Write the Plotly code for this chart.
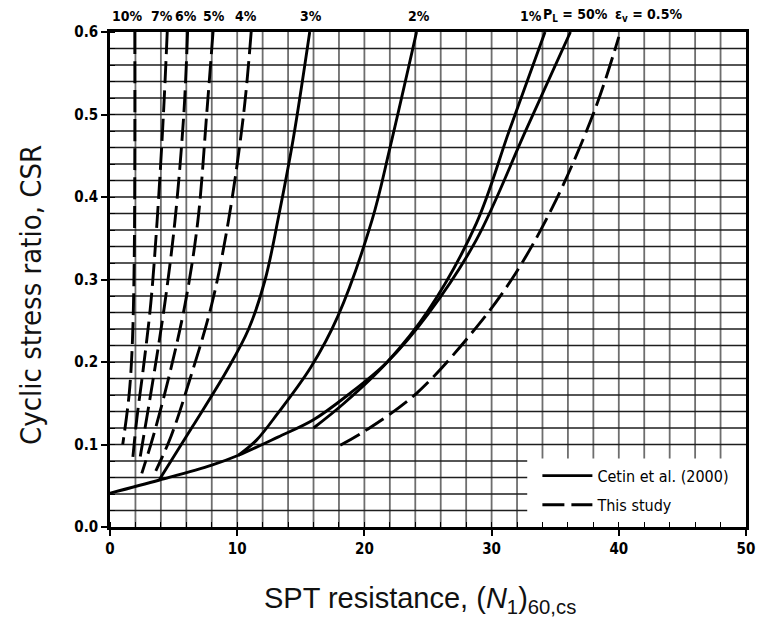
import plotly.graph_objects as go

# ---------------- data ----------------
# "This study" curves (dashed)
n_10 = [1.95, 1.95, 1.9, 1.75, 1.5, 1.0]
csr_10 = [0.60, 0.45, 0.32, 0.22, 0.16, 0.10]

n_7 = [4.5, 4.2, 3.7, 3.2, 2.6, 2.1, 1.8]
csr_7 = [0.60, 0.50, 0.37, 0.27, 0.19, 0.13, 0.085]

n_6 = [6.1, 5.8, 5.1, 4.3, 3.4, 2.7, 2.3]
csr_6 = [0.60, 0.50, 0.37, 0.27, 0.18, 0.115, 0.078]

n_5 = [8.1, 7.6, 6.9, 5.9, 4.6, 3.4, 2.5]
csr_5 = [0.60, 0.50, 0.37, 0.27, 0.18, 0.11, 0.065]

n_4 = [11.1, 10.5, 9.3, 8.0, 6.3, 4.8, 3.6]
csr_4 = [0.60, 0.50, 0.37, 0.27, 0.18, 0.11, 0.068]

n_05 = [18.1, 20.2, 24.1, 28.8, 31.7, 34.8, 38.1, 40.0]
csr_05 = [0.099, 0.118, 0.162, 0.242, 0.303, 0.388, 0.505, 0.594]

# Cetin et al. (2000) curves (solid)
n_3 = [3.9, 6.5, 9.2, 10.9, 12.2, 13.3, 14.4, 15.7]
csr_3 = [0.058, 0.122, 0.190, 0.240, 0.300, 0.380, 0.470, 0.60]

n_2 = [24.1, 22.0, 20.6, 17.9, 15.8, 13.2, 11.5, 10.1]
csr_2 = [0.60, 0.459, 0.372, 0.255, 0.194, 0.138, 0.105, 0.087]

n_1 = [16.0, 18.4, 21.8, 25.0, 28.8, 31.4, 34.2]
csr_1 = [0.12, 0.150, 0.200, 0.262, 0.368, 0.481, 0.60]

n_pl = [0.0, 3.9, 8.0, 10.1, 13.2, 16.0, 18.7, 21.8, 25.0, 28.8, 32.7, 36.2]
csr_pl = [0.041, 0.057, 0.075, 0.087, 0.109, 0.130, 0.160, 0.200, 0.258, 0.348, 0.481, 0.60]

# top labels and their x positions
top_labels = ["10%", "7%", "6%", "5%", "4%", "3%", "2%", "1%",
              "P<sub>L</sub> = 50%", "ε<sub>v</sub> = 0.5%"]
top_label_x = [1.4, 4.1, 6.0, 8.2, 10.7, 15.8, 24.3, 33.1, 36.6, 42.3]

x_ticks = [0, 10, 20, 30, 40, 50]
y_ticks = [0.0, 0.1, 0.2, 0.3, 0.4, 0.5, 0.6]

# ---------------- figure ----------------
NARROW = "Liberation Sans Narrow, Arial Narrow, DejaVu Sans Condensed, sans-serif"
SANS = "Liberation Sans, Arial, sans-serif"

fig = go.Figure()

dash_pat = "22px,7px"
lw = 2.9

dashed = [(n_10, csr_10), (n_7, csr_7), (n_6, csr_6), (n_5, csr_5), (n_4, csr_4)]
solid = [(n_3, csr_3), (n_2, csr_2), (n_1, csr_1)]

fig.add_trace(go.Scatter(x=n_pl, y=csr_pl, mode="lines", name="Cetin et al. (2000)",
                         line=dict(color="black", width=lw, shape="spline"),
                         showlegend=True, legend="legend"))
for xs, ys in solid:
    fig.add_trace(go.Scatter(x=xs, y=ys, mode="lines", showlegend=False,
                             line=dict(color="black", width=lw, shape="spline")))
fig.add_trace(go.Scatter(x=n_05, y=csr_05, mode="lines", name="This study",
                         line=dict(color="black", width=lw, dash=dash_pat, shape="spline"),
                         showlegend=True, legend="legend2"))
for xs, ys in dashed:
    fig.add_trace(go.Scatter(x=xs, y=ys, mode="lines", showlegend=False,
                             line=dict(color="black", width=lw, dash=dash_pat, shape="spline")))

# grid drawn as shapes, leaving the legend box clear
shapes = []
box_x, box_y = 32.8, 0.083
for i in range(0, 26):
    xv = 2 * i
    if xv in (0, 50):
        continue
    y0 = box_y if xv > box_x else 0
    shapes.append(dict(type="line", xref="x", yref="y", x0=xv, x1=xv, y0=y0, y1=0.6,
                       line=dict(color="#6e6e6e", width=1.8), layer="below"))
for j in range(1, 30):
    yv = j * 0.02
    x1 = box_x if yv < box_y else 50
    shapes.append(dict(type="line", xref="x", yref="y", x0=0, x1=x1, y0=yv, y1=yv,
                       line=dict(color="#1e1e1e", width=1.7), layer="below"))

annotations = []
for txt, xv in zip(top_labels, top_label_x):
    annotations.append(dict(text=txt, x=xv, y=1, xref="x", yref="paper",
                            yanchor="bottom", yshift=6, showarrow=False,
                            font=dict(family=NARROW, size=14, color="black", weight="bold")))

# axis titles as annotations for exact placement
annotations.append(dict(text="Cyclic stress ratio, CSR", textangle=-90,
                        x=-0.124, y=0.469, xref="paper", yref="paper",
                        xanchor="center", yanchor="middle", showarrow=False,
                        font=dict(family=NARROW, size=29, color="#111")))
annotations.append(dict(text="SPT resistance, (<i>N</i><sub>1</sub>)<sub>60,cs</sub>",
                        x=0.487, y=-0.147, xref="paper", yref="paper",
                        xanchor="center", yanchor="middle", showarrow=False,
                        font=dict(family=SANS, size=29, color="#111")))

fig.update_layout(
    width=767, height=635,
    margin=dict(l=110, r=12, t=32, b=108),
    paper_bgcolor="white", plot_bgcolor="white",
    shapes=shapes, annotations=annotations,
    legend=dict(x=0.672, y=0.138, xanchor="left", yanchor="top", itemwidth=50,
                bgcolor="rgba(0,0,0,0)", font=dict(family=NARROW, size=16, color="black")),
    legend2=dict(x=0.672, y=0.079, xanchor="left", yanchor="top", itemwidth=50,
                 bgcolor="rgba(0,0,0,0)", font=dict(family=NARROW, size=16, color="black")),
)

fig.update_xaxes(range=[0, 50], tickvals=x_ticks, ticktext=[str(v) for v in x_ticks],
                 showgrid=False, zeroline=False, showline=True, linecolor="black", linewidth=2.5,
                 mirror=True, ticks="outside", ticklen=6, tickwidth=2, tickcolor="black",
                 minor=dict(dtick=2, ticks="inside", ticklen=5, tickwidth=1.2, tickcolor="black",
                            showgrid=False),
                 tickfont=dict(family=NARROW, size=15, color="black", weight="bold"))
fig.update_yaxes(range=[0, 0.6], tickvals=y_ticks, ticktext=["%.1f" % v for v in y_ticks],
                 showgrid=False, zeroline=False, showline=True, linecolor="black", linewidth=2.5,
                 mirror=True, ticks="outside", ticklen=6, tickwidth=2, tickcolor="black",
                 minor=dict(dtick=0.02, ticks="inside", ticklen=5, tickwidth=1.2, tickcolor="black",
                            showgrid=False),
                 tickfont=dict(family=NARROW, size=15, color="black", weight="bold"))

fig.write_html("out.html")
